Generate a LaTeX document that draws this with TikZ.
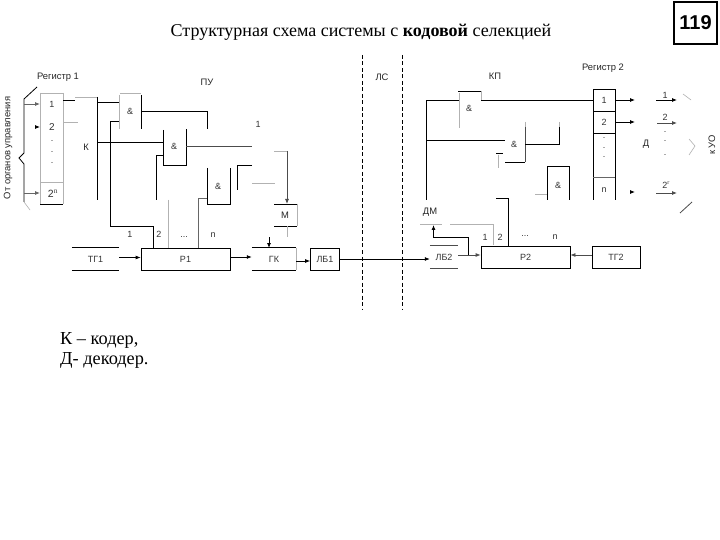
\documentclass[tikz,border=0pt]{standalone}
\usepackage{fontspec}
\setmainfont{Liberation Serif}
\newfontfamily\arialf{Liberation Sans}
\usetikzlibrary{arrows.meta}
\tikzset{
 x=1pt,y=-1pt,
 ln/.style={line width=0.8pt,black},
 gl/.style={line width=0.6pt,black!30},
 ar/.style={ln,-{Latex[length=5pt,width=4pt]}},
 lb/.style={font=\arialf\fontsize{9.4}{11}\selectfont,inner sep=0pt,text=black!85},
 sm/.style={font=\arialf\fontsize{9}{10}\selectfont,inner sep=0pt,text=black!80},
 blk/.style={inner sep=0pt,font=\arialf\fontsize{9}{10}\selectfont,text=black!80},
 serif/.style={font=\fontsize{18.3}{20}\selectfont,inner sep=0pt,anchor=west},
}
\begin{document}
\begin{tikzpicture}
\useasboundingbox (0,0) rectangle (720,540);
\fill[white] (0,0) rectangle (720,540);
% titles
\node[inner sep=0pt,font=\fontsize{18}{20}\selectfont] (title) at (361,32) {Структурная схема системы с \textbf{кодовой} селекцией};
\node[draw,line width=1.1pt,minimum width=43pt,minimum height=42pt,inner sep=0pt,font=\arialf\bfseries\fontsize{20}{22}\selectfont] (num) at (695.5,23) {119};
\node[serif] (nk) at (60,340.5) {К – кодер,};
\node[serif] (nd) at (60,360.5) {Д- декодер.};
% labels
\node[lb] (lr1) at (58,77) {Регистр 1};
\node[lb] (lr2) at (603,68) {Регистр 2};
\node[lb] (lpu) at (207,82) {ПУ};
\node[lb] (lls) at (382,77) {ЛС};
\node[lb] (lkp) at (495,76) {КП};
\node[lb] (lk) at (86,147) {К};
\node[lb] (ld) at (646,144) {Д};
\node[lb] (ldm) at (430,212) {ДМ};
\node[lb,rotate=90] (lorg) at (8,148) {От органов управления};
\node[lb,rotate=90] (luo) at (712,145) {к УО};
% dashed
\coordinate (d1a) at (362,55); \coordinate (d1b) at (362,310);
\coordinate (d2a) at (402,55); \coordinate (d2b) at (402,310);
\draw[ln,dashed,dash pattern=on 4pt off 2.5pt] (d1a) -- (d1b);
\draw[ln,dashed,dash pattern=on 4pt off 2.5pt] (d2a) -- (d2b);
% register 1
\draw[gl] (40,93) -- (63,93) (63,93) -- (63,204) (40,93) -- (40,204) (40,182) -- (63,182);
\draw[ln] (40,204) -- (63,204);
\node[sm] (r11) at (52,104) {1};
\node[sm,font=\arialf\fontsize{10}{11}\selectfont] (r12) at (52,127) {2};
\node[sm] at (52,141) {.}; \node[sm] at (52,152) {.}; \node[sm] at (52,163) {.};
\node[sm,font=\arialf\fontsize{10.5}{11}\selectfont] (r1n) at (53,194) {2$^{\mathrm{n}}$};
% brace left
\draw[ln] (37,87) -- (24,99) -- (24,153) -- (19,158) -- (24,164) -- (24,202);
\draw[gl] (24,202) -- (30,210);
\coordinate (a1) at (24,104); \coordinate (a1b) at (40,104);
\coordinate (a2) at (35,127); \coordinate (a2b) at (40,127);
\coordinate (a3) at (24,193); \coordinate (a3b) at (40,193);
\draw[ar,black!60] (a1) -- (a1b);
\draw[ar] (a2) -- (a2b);
\draw[ar,black!60] (a3) -- (a3b);
% bus from register 1
\draw[ln] (63,100) -- (75,100);
\draw[gl] (63,122) -- (78,122);
\draw[gl] (75,97) -- (97,97);
\draw[ln] (97,97) -- (97,200);
\draw[ln] (97,102) -- (119,102);
\draw[ln] (97,142) -- (163,142);
\draw[ln] (119,121) -- (110,121) -- (110,226) -- (153,226) -- (153,248);
\draw[gl] (168,200) -- (168,248);
% gate 1
\draw[gl] (120,93) -- (141,93) (119,95) -- (119,129);
\draw[ln] (141,95) -- (141,129);
\node[sm] (g1) at (130,111) {\&};
\draw[ln] (141,111.5) -- (207,111.5) -- (207,129);
% gate 2
\draw[ln] (163,130) -- (163,165) -- (186,165) -- (186,129);
\node[sm] (g2) at (174,146) {\&};
\draw[ln] (163,155) -- (156,155) -- (156,200);
\draw[ln,black!70] (186,146) -- (252,146);
\draw[gl] (274,151) -- (287,151);
% gate 3
\draw[ln] (207,168) -- (207,204) -- (230,204) -- (230,168);
\node[sm] (g3) at (218,186) {\&};
\draw[ln,black!60] (207,198) -- (198,198) -- (198,248);
\draw[ln] (252,165) -- (237,165) -- (237,190);
\draw[gl] (252,183) -- (275,183);
\node[sm] (l1t) at (258,124) {1};
% M
\draw[ln] (274,204) -- (297,204) (274,226) -- (297,226);
\draw[gl] (297,204) -- (297,226);
\node[lb] (m) at (285,215) {М};
\draw[ar,black!70] (287,151) -- (287,204);
\draw[gl] (287,226) -- (287,237);
% bottom row left
\node[sm] (in1) at (130,234) {1};
\node[sm] (in2) at (159,234) {2};
\node[sm] (in3) at (184,237) {...};
\node[sm] (in4) at (213,235) {n};
\node[draw=none,minimum width=47pt,minimum height=22pt,inner sep=0pt,blk] (g1b) at (95.5,259) {ТГ1};
\draw[ln] (g1b.north west) -- (g1b.north east) (g1b.south west) -- (g1b.south east);
\node[draw,line width=0.8pt,minimum width=89pt,minimum height=22pt,inner sep=0pt,blk] (p1) at (185.5,259) {Р1};
\node[draw=none,minimum width=44pt,minimum height=22pt,inner sep=0pt,blk] (gk) at (274,259) {ГК};
\draw[ln] (gk.north west) -- (gk.north east) (gk.south west) -- (gk.south east);
\draw[gl] (gk.north east) -- (gk.south east);
\node[draw,line width=0.8pt,minimum width=29pt,minimum height=22pt,inner sep=0pt,blk] (lb1) at (325,259) {ЛБ1};
\draw[ar] (g1b.east |- 0,257.5) -- (p1.west |- 0,257.5);
\draw[ar] (p1.east |- 0,257) -- (gk.west |- 0,257);
\draw[ar] (gk.east |- 0,261) -- (lb1.west |- 0,261);
\coordinate (gkin) at (269,237);
\draw[ar] (gkin) -- (269,248);
% right lower row
\node[draw=none,minimum width=28pt,minimum height=22pt,inner sep=0pt,blk] (lb2) at (444,257) {ЛБ2};
\draw[ln,black!70] (lb2.north west) -- (lb2.north east) (lb2.south west) -- (lb2.south east);
\node[draw,line width=0.8pt,minimum width=89pt,minimum height=22pt,inner sep=0pt,blk] (p2) at (525.5,257) {Р2};
\node[draw,line width=0.8pt,minimum width=48pt,minimum height=21.5pt,inner sep=0pt,blk] (tg2) at (616,257.5) {ТГ2};
\draw[ar] (lb1.east |- 0,259) -- (lb2.west |- 0,259);
\draw[ar,black!70] (lb2.east |- 0,255) -- (p2.west |- 0,255);
\draw[ar,black!70] (tg2.west |- 0,255) -- (p2.east |- 0,255);
\node[sm] (rn1) at (485,237) {1};
\node[sm] (rn2) at (500,237) {2};
\node[sm] (rn3) at (525,236) {...};
\node[sm] (rn4) at (555,237) {n};
\draw[gl] (420,224) -- (442,224);
\draw[gl] (450,224) -- (493,224) -- (493,245);
\draw[ar] (468,255) -- (468,237) -- (433.5,237) -- (433.5,225);
\draw[ln] (496,198) -- (508,198) -- (508,246);
% right bus
\draw[ln] (426,200) -- (426,100) -- (459,100);
\draw[ln] (426,140) -- (505,140);
% right gate 1
\draw[ln] (458,91) -- (481,91);
\draw[gl] (459,93) -- (459,128) (481,91) -- (481,100);
\node[sm] (rg1) at (469,108) {\&};
\draw[ln] (481,100) -- (593,100);
% right gate 2
\node[sm] (rg2) at (514,144) {\&};
\draw[gl] (525,122) -- (525,127) (559,122) -- (559,127) (498,155) -- (498,168);
\draw[ln,black!70] (525,127) -- (525,162);
\draw[ln] (525,144) -- (559,144) -- (559,127);
\draw[ln] (505,162) -- (525,162);
\draw[ln] (496,153) -- (503,153);
% right gate 3
\draw[ln] (547,200) -- (547,166) -- (569,166) -- (569,200);
\node[sm] (rg3) at (558,185) {\&};
\draw[gl] (535,194) -- (547,194);
% register 2
\draw[ln] (593,200) -- (593,89) -- (615,89) -- (615,200);
\draw[ln] (593,111) -- (615,111) (593,133) -- (615,133);
\draw[ln,black!60] (593,177) -- (615,177);
\node[sm] (rr1) at (604,100) {1};
\node[sm] (rr2) at (604,122) {2};
\node[sm] at (604,138) {.}; \node[sm] at (604,148) {.}; \node[sm] at (604,157) {.};
\node[sm] (rrn) at (604,190) {n};
\coordinate (o1) at (635,100); \coordinate (o2) at (635,122);
\coordinate (o3a) at (631,192); \coordinate (o3b) at (635,192);
\draw[ar] (615,100) -- (o1);
\draw[ar] (615,122) -- (o2);
\draw[ar] (o3a) -- (o3b);
% decoder outputs
\coordinate (q1a) at (656,100); \coordinate (q1b) at (677,100);
\coordinate (q2a) at (657,123); \coordinate (q2b) at (677,123);
\coordinate (q3a) at (656,193); \coordinate (q3b) at (677,193);
\draw[ar] (q1a) -- (q1b);
\draw[ar,black!70] (q2a) -- (q2b);
\draw[ar,black!70] (q3a) -- (q3b);
\node[sm] (q1) at (665,95) {1};
\node[sm] (q2) at (665,117) {2};
\node[sm] at (665,132) {.}; \node[sm] at (665,141) {.}; \node[sm] at (665,155) {.};
\node[sm] (q3) at (666,185) {2$^{\mathrm{r}}$};
\draw[gl] (683,94) -- (691,100);
\draw[gl] (689,139) -- (695,146) -- (689,155);
\draw[ln,black!70] (680,213) -- (692,202);
\end{tikzpicture}
\end{document}
